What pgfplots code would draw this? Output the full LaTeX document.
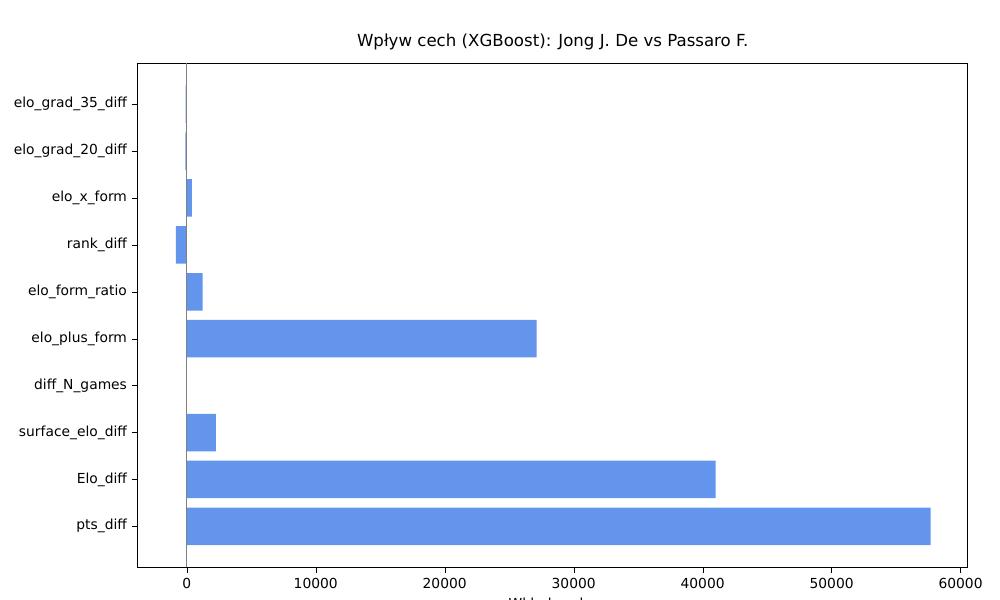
\documentclass[border=0pt]{standalone}
\usepackage{pgfplots}
\pgfplotsset{compat=1.18}
\usepackage{fontspec}
\setmainfont{DejaVu Sans}
\definecolor{bar}{HTML}{6495ED}
\begin{document}
\begin{tikzpicture}[x=1pt,y=1pt]
\path[use as bounding box] (0,0) rectangle (722.7,433.6);
\begin{axis}[at={(106.8,70.0)},anchor=south west,scale only axis,
 width=599.7pt,height=364.1pt,
 xbar, bar width=27.1pt,
 xmin=-3800,xmax=60540,ymin=-0.87,ymax=9.87,
 ytick={0,...,9},
 yticklabels={pts\_diff,Elo\_diff,surface\_elo\_diff,diff\_N\_games,elo\_plus\_form,elo\_form\_ratio,rank\_diff,elo\_x\_form,elo\_grad\_20\_diff,elo\_grad\_35\_diff},
 xtick={0,10000,...,60000},
 scaled x ticks=false,
 /pgf/number format/assume math mode=true,
 xticklabel style={/pgf/number format/.cd,fixed,1000 sep={}},
 tick label style={font=\fontsize{10}{12}\selectfont},
 tick align=outside, tick style={black},
 xtick pos=bottom, ytick pos=left,
 xlabel={Wkład cechy}, xlabel style={font=\fontsize{10}{12}\selectfont},
 title={Wpływ cech (XGBoost): Jong J. De vs Passaro F.},
 title style={font=\fontsize{12}{14}\selectfont},
]
\addplot[fill=bar,draw=none] coordinates {(57670,0) (41000,1) (2250,2) (0,3) (27130,4) (1240,5) (-850,6) (390,7) (-100,8) (-80,9)};
\draw[gray,line width=0.6pt] (axis cs:0,-0.87) -- (axis cs:0,9.87);
\end{axis}
\end{tikzpicture}
\end{document}
